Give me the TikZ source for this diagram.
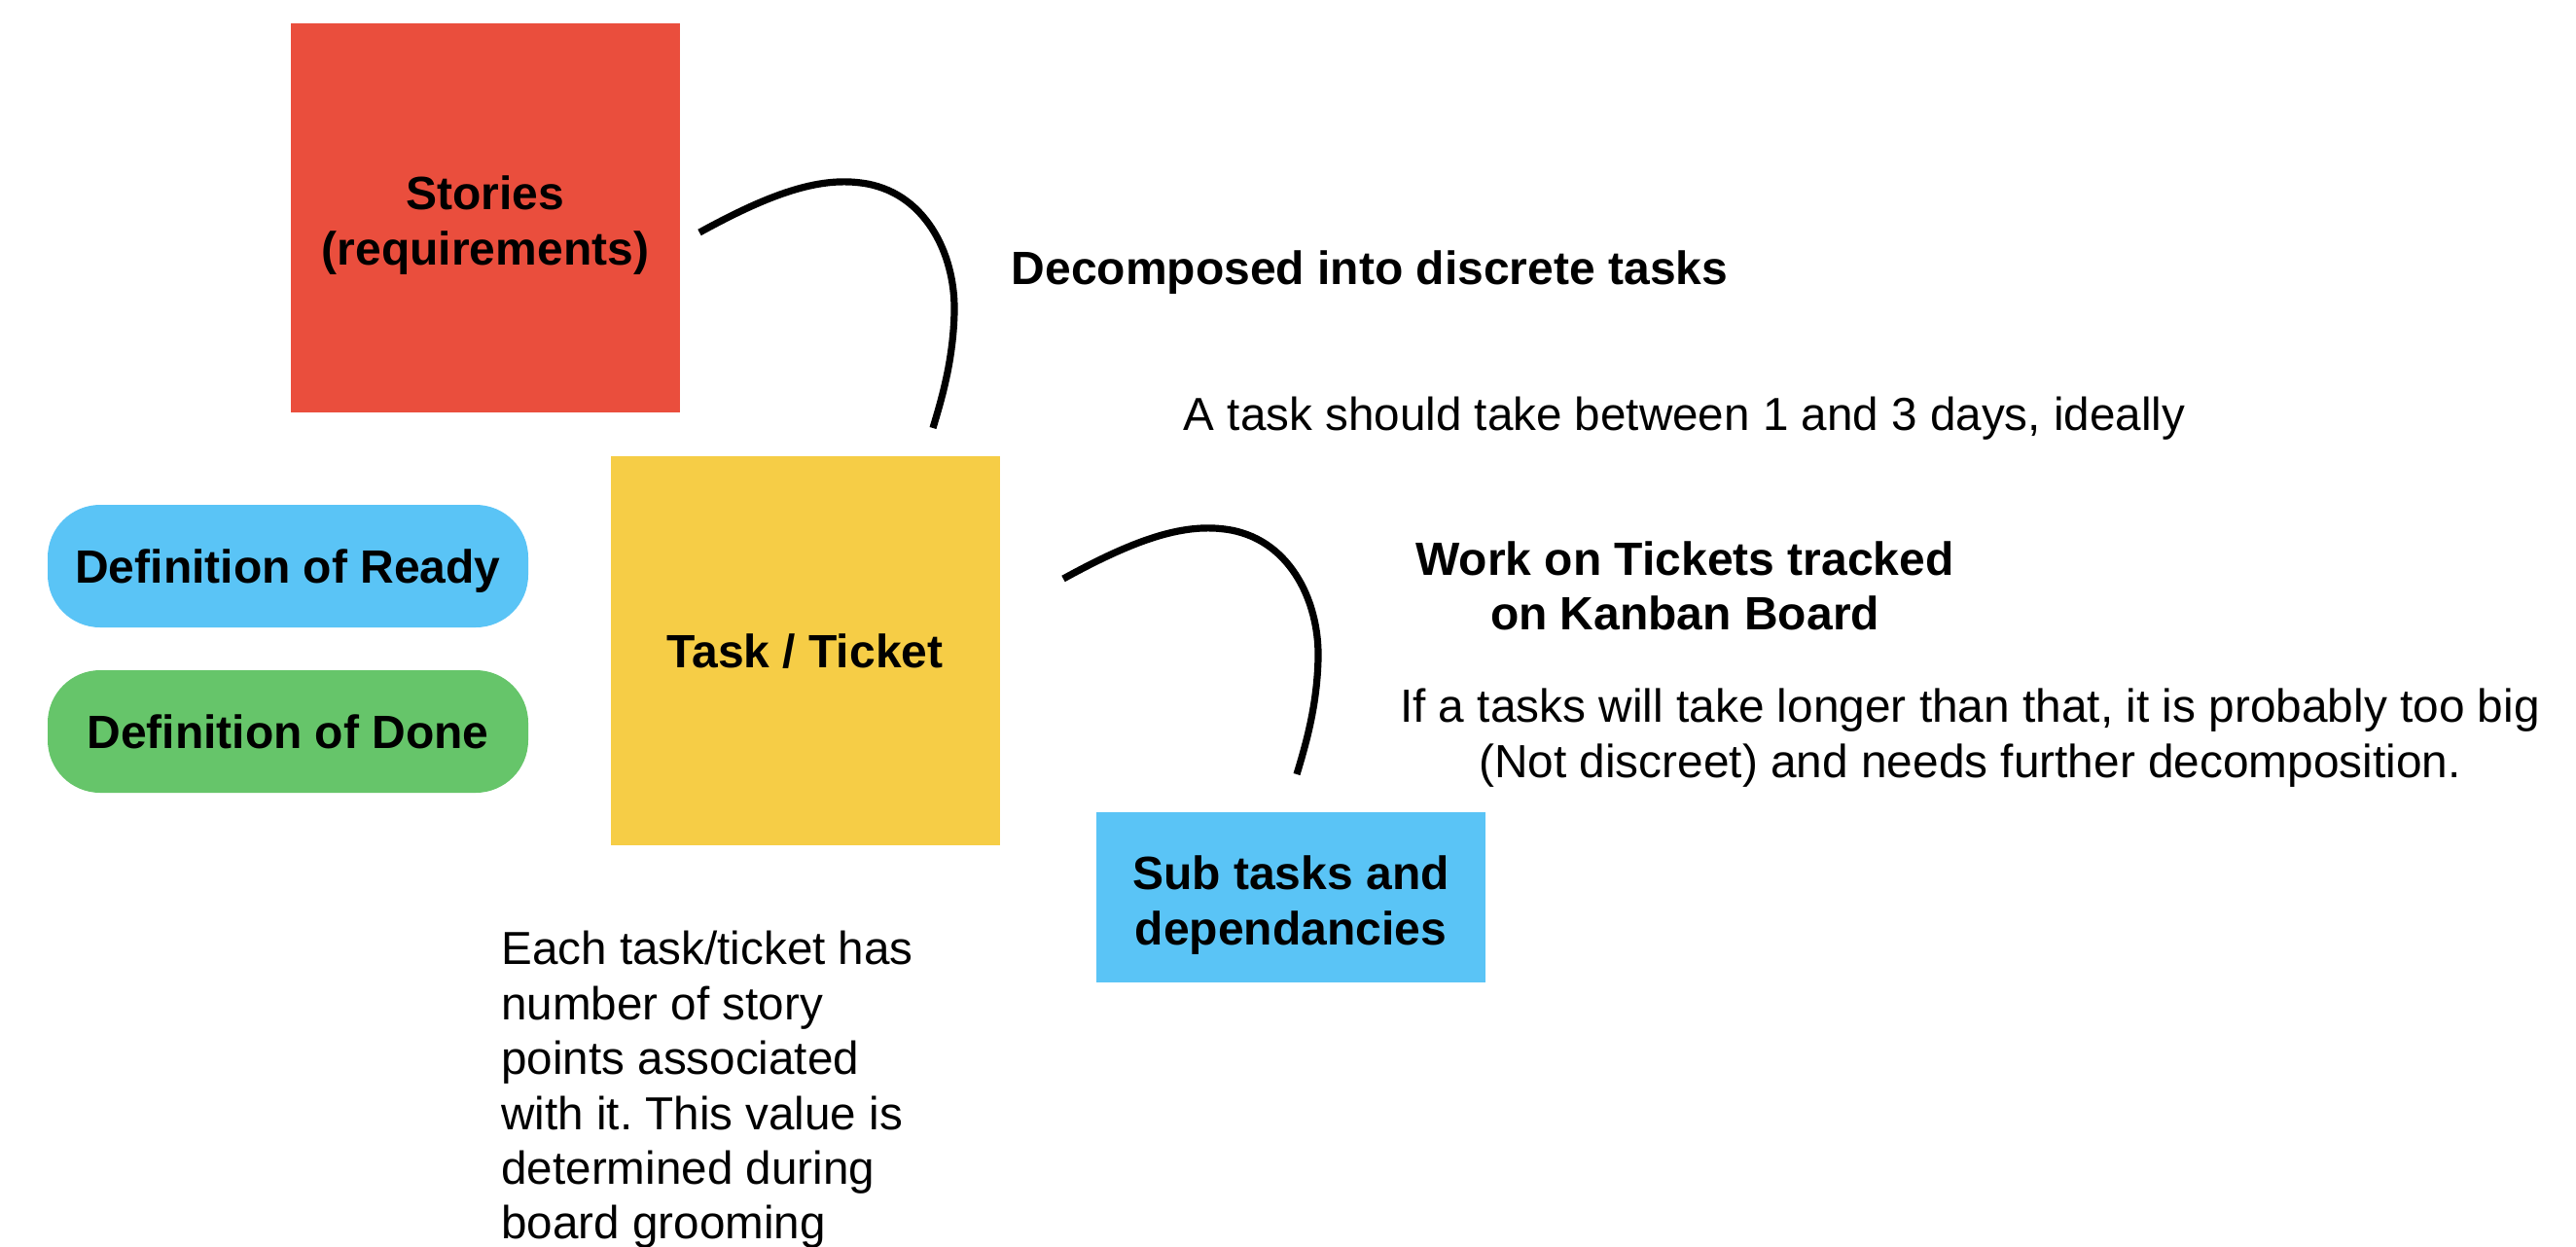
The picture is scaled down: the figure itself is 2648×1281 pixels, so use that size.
\documentclass[tikz,border=0pt]{standalone}
\usepackage{fontspec}
\setmainfont{Liberation Sans}
\frenchspacing
\definecolor{cRed}{HTML}{EA4E3D}
\definecolor{cYellow}{HTML}{F6CD46}
\definecolor{cBlue}{HTML}{5AC4F6}
\definecolor{cGreen}{HTML}{66C56A}
\newcommand\lblfont{\fontsize{24pt}{28.5pt}\selectfont\bfseries}
\newcommand\txtfont{\fontsize{23.8pt}{28.2pt}\selectfont}
\begin{document}
\begin{tikzpicture}[x=0.5pt,y=-0.5pt,
  box/.style={inner sep=0pt, minimum width=200pt, minimum height=200pt},
  onelabel/.style={font=\lblfont, text height=17.2pt, text depth=0pt},
  multilabel/.style={label={[inner sep=0pt, font=\lblfont, align=center, yshift=-4pt]center:#1}},
  pill/.style={inner sep=0pt, minimum width=247pt, minimum height=63pt, rounded corners=27pt},
  boldtxt/.style={inner sep=0pt, font=\lblfont},
  plaintxt/.style={inner sep=0pt, font=\txtfont},
  hook/.style={line width=3.6pt, black}]
\useasboundingbox (0,0) rectangle (2648,1281);
\fill[white] (0,0) rectangle (2648,1281);

\node[box, fill=cRed, multilabel={Stories\\(requirements)}] (stories) at (499,224) {};
\node[box, fill=cYellow, onelabel] (task) at (827.5,669) {Task / Ticket};
\node[box, fill=cBlue, minimum height=87.5pt, multilabel={Sub tasks and\\dependancies}] (sub) at (1327,922.5) {};
\node[pill, fill=cBlue, onelabel] (dor) at (296,582) {Definition of Ready};
\node[pill, fill=cGreen, onelabel] (dod) at (296,752) {Definition of Done};

\node[boldtxt, anchor=base] (decomp) at (1408,292) {Decomposed into discrete tasks};
\node[plaintxt, anchor=base] (ideal) at (1731.5,442) {A task should take between 1 and 3 days, ideally};
\node[boldtxt, anchor=north, align=center, font=\fontsize{24pt}{28pt}\selectfont\bfseries] (kanban) at (1732,556) {Work on Tickets tracked\\on Kanban Board};
\node[plaintxt, anchor=north, align=center, font=\fontsize{23.9pt}{28.5pt}\selectfont] (big) at (2025,707) {If a tasks will take longer than that, it is probably too big\\(Not discreet) and needs further decomposition.};
\node[plaintxt, anchor=north west, align=left] (each) at (515,957) {Each task/ticket has\\number of story\\points associated\\with it. This value is\\determined during\\board grooming};

\coordinate (a1) at (719,239);
\coordinate (b1) at (959,440);
\draw[hook] (a1) .. controls (790,200) and (840,182) .. (885,188)
  .. controls (950,196) and (982,260) .. (981,320)
  .. controls (980,370) and (968,410) .. (b1);
\begin{scope}[shift={(374,356)}]
\coordinate (a2) at (719,239);
\coordinate (b2) at (959,440);
\draw[hook] (a2) .. controls (790,200) and (840,182) .. (885,188)
  .. controls (950,196) and (982,260) .. (981,320)
  .. controls (980,370) and (968,410) .. (b2);
\end{scope}
\end{tikzpicture}
\end{document}
